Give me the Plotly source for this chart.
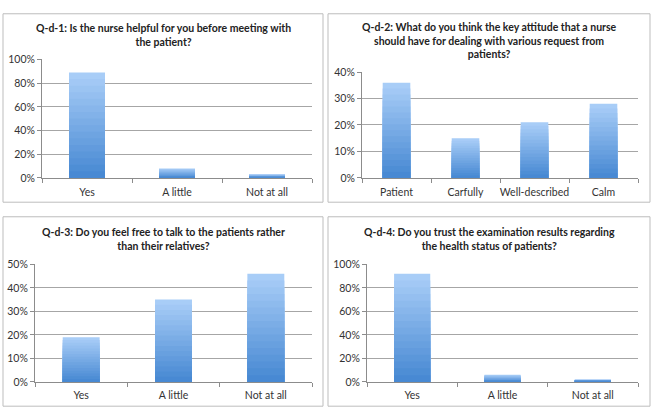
import plotly.graph_objects as go

W, H = 653, 418

# ---- data ----
q1_title = "Q-d-1: Is the nurse helpful for you before meeting with<br>the patient?"
q1_cats = ["Yes", "A little", "Not at all"]
q1_vals = [89, 8, 3]

q2_title = "Q-d-2: What do you think the key attitude that a nurse<br>should have for dealing with various request from<br>patients?"
q2_cats = ["Patient", "Carfully", "Well-described", "Calm"]
q2_vals = [36, 15, 21, 28]

q3_title = "Q-d-3: Do you feel free to talk to the patients rather<br>than their relatives?"
q3_cats = ["Yes", "A little", "Not at all"]
q3_vals = [19, 35, 46]

q4_title = "Q-d-4: Do you trust the examination results regarding<br>the health status of patients?"
q4_cats = ["Yes", "A little", "Not at all"]
q4_vals = [92, 6, 2]

# ---- layout geometry (pixels) ----
def px(x):
    return x / W

def py(y):
    return 1 - y / H

panels = [
    (q1_title, q1_cats, q1_vals, 100, 20, (42, 312, 55, 177), (3, 323, 8, 202), 30),
    (q2_title, q2_cats, q2_vals, 40, 10, (362, 638, 68, 177), (328, 650, 8, 202), 36),
    (q3_title, q3_cats, q3_vals, 50, 10, (35, 312, 266, 387), (3, 323, 217, 412), 240),
    (q4_title, q4_cats, q4_vals, 100, 20, (367, 638, 266, 387), (328, 650, 217, 412), 240),
]

FONT = "Lato, 'Open Sans', sans-serif"
top_c = (168, 205, 247)
bot_c = (72, 137, 211)
N = 16

fig = go.Figure()
shapes = []
annotations = []
for i, (title, cats, vals, ymax, dtick, pa, pb, ty) in enumerate(panels):
    k = "" if i == 0 else str(i + 1)
    xa, ya = "x" + k, "y" + k
    for j in range(N):
        f = 1 - j / N
        t = j / (N - 1)
        c = tuple(round(top_c[m] + (bot_c[m] - top_c[m]) * t) for m in range(3))
        fig.add_trace(go.Bar(
            x=cats, y=[v * f for v in vals], xaxis=xa, yaxis=ya,
            marker=dict(color="rgb(%d,%d,%d)" % c, line=dict(width=0)),
            showlegend=False, hoverinfo="skip" if j else None,
        ))
    x0, x1, y0, y1 = pa
    fig.layout["xaxis" + k] = dict(
        domain=[px(x0), px(x1)], anchor=ya, type="category",
        showline=True, linecolor="#8c8c8c", linewidth=1,
        ticks="outside", tickson="boundaries", ticklen=4, tickcolor="#8c8c8c",
        tickangle=0, ticklabelstandoff=4,
        tickfont=dict(family=FONT, size=10.5, color="#333333"),
        showgrid=False, fixedrange=True,
    )
    fig.layout["yaxis" + k] = dict(
        domain=[py(y1), py(y0)], anchor=xa, range=[0, ymax], dtick=dtick,
        ticksuffix="%", showline=True, linecolor="#8c8c8c", linewidth=1,
        ticks="outside", ticklen=4, tickcolor="#8c8c8c",
        showgrid=True, gridcolor="#a6a6a6", gridwidth=1, zeroline=False,
        tickfont=dict(family=FONT, size=10.5, color="#333333"),
        fixedrange=True,
    )
    b0, b1, c0, c1 = pb
    shapes.append(dict(type="rect", xref="paper", yref="paper",
                       x0=px(b0), x1=px(b1), y0=py(c1), y1=py(c0),
                       line=dict(color="#bdbdbd", width=1), layer="below"))
    annotations.append(dict(text="<b>" + title + "</b>", xref="paper", yref="paper",
                            x=px((b0 + b1) / 2), y=py(ty), xanchor="center", yanchor="middle",
                            showarrow=False, align="center",
                            font=dict(family=FONT, size=10.5, color="#222222")))

fig.update_layout(
    width=W, height=H, margin=dict(l=0, r=0, t=0, b=0),
    paper_bgcolor="white", plot_bgcolor="white",
    barmode="overlay", bargap=0.6,
    shapes=shapes, annotations=annotations,
    font=dict(family=FONT),
)

fig.write_html("out.html")
